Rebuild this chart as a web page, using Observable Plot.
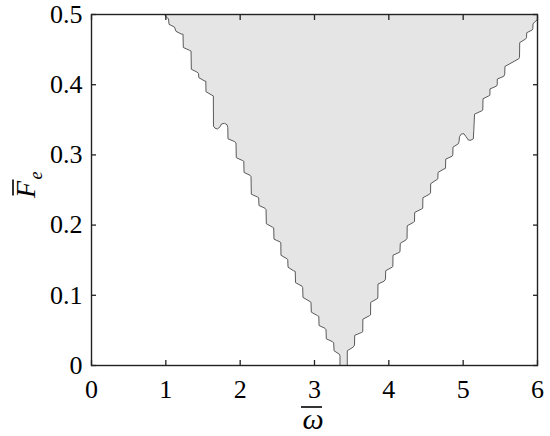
<!DOCTYPE html>
<html>
<head>
<meta charset="utf-8">
<script src="https://cdn.jsdelivr.net/npm/d3@7"></script>
<script src="https://cdn.jsdelivr.net/npm/@observablehq/plot@0.6"></script>
<style>
  html, body { margin: 0; padding: 0; background: #fff; }
  svg text { font-family: "Liberation Serif", "Times New Roman", "DejaVu Serif", serif; }
</style>
</head>
<body>
<div id="chart"></div>
<script>
// Left boundary of the shaded region (omega, Fe), top to bottom
const leftOmega = [0.982,1.009,1.036,1.043,1.117,1.137,1.211,1.231,1.235,1.318,1.339,1.343,1.419,1.440,1.444,1.527,1.538,1.540,1.621,1.639,1.641,1.662,1.695,1.729,1.749,1.789,1.823,1.834,1.836,1.924,1.944,1.948,2.031,2.049,2.052,2.132,2.146,2.150,2.233,2.249,2.253,2.334,2.348,2.352,2.435,2.451,2.455,2.536,2.547,2.549,2.630,2.640,2.644,2.718,2.741,2.745,2.832,2.841,2.845,2.940,2.953,2.957,3.040,3.058,3.061,3.141,3.155,3.159,3.242,3.258,3.263,3.336,3.343,3.343];
const leftFe = [0.500,0.496,0.494,0.486,0.482,0.476,0.472,0.472,0.453,0.449,0.448,0.422,0.418,0.416,0.410,0.405,0.405,0.390,0.385,0.384,0.341,0.338,0.337,0.340,0.344,0.345,0.343,0.339,0.323,0.319,0.317,0.296,0.292,0.291,0.275,0.271,0.269,0.244,0.240,0.239,0.228,0.224,0.222,0.202,0.197,0.196,0.180,0.176,0.175,0.157,0.152,0.151,0.140,0.135,0.134,0.118,0.113,0.111,0.097,0.091,0.090,0.076,0.071,0.070,0.057,0.053,0.051,0.038,0.034,0.032,0.021,0.016,0.013,0.000];
// Right boundary of the shaded region (omega, Fe), bottom to top
const rightOmega = [3.441,3.441,3.518,3.538,3.541,3.632,3.649,3.651,3.740,3.754,3.756,3.841,3.852,3.854,3.935,3.955,3.958,4.043,4.054,4.056,4.137,4.150,4.154,4.231,4.245,4.247,4.332,4.345,4.348,4.440,4.456,4.458,4.547,4.561,4.563,4.648,4.659,4.662,4.742,4.763,4.765,4.850,4.861,4.863,4.937,4.944,4.951,4.978,5.011,5.038,5.072,5.106,5.137,5.143,5.153,5.254,5.264,5.267,5.345,5.359,5.361,5.449,5.458,5.459,5.547,5.559,5.562,5.749,5.758,5.761,5.839,5.852,5.855,5.929,5.937,5.940,5.980,6.000,6.000];
const rightFe = [0.000,0.021,0.026,0.029,0.043,0.047,0.048,0.066,0.071,0.072,0.090,0.095,0.096,0.116,0.120,0.123,0.135,0.140,0.141,0.157,0.161,0.162,0.174,0.179,0.181,0.199,0.204,0.205,0.218,0.223,0.224,0.239,0.244,0.246,0.259,0.265,0.266,0.275,0.280,0.281,0.294,0.298,0.300,0.311,0.316,0.319,0.326,0.330,0.330,0.326,0.321,0.321,0.323,0.335,0.358,0.363,0.364,0.380,0.384,0.385,0.394,0.398,0.400,0.408,0.412,0.415,0.426,0.437,0.439,0.460,0.465,0.467,0.474,0.478,0.480,0.487,0.491,0.493,0.500];
const xTicks = [0,1,2,3,4,5,6];
const yTicks = [0,0.1,0.2,0.3,0.4,0.5];
const yTickLabels = ["0","0.1","0.2","0.3","0.4","0.5"];
const xLabel = "ω";
const yLabel = "F";
const yLabelSub = "e";

const left = leftOmega.map((w, i) => ({omega: w, Fe: leftFe[i]}));
const right = rightOmega.map((w, i) => ({omega: w, Fe: rightFe[i]}));
const region = left.concat(right);
const blank = () => "";
const serif = "'Liberation Serif', 'Times New Roman', 'DejaVu Serif', serif";

const chart = Plot.plot({
  width: 550,
  height: 436,
  marginLeft: 91,
  marginRight: 13,
  marginTop: 14,
  marginBottom: 71,
  style: {fontFamily: serif, fontSize: "26px", color: "#000", background: "#fff"},
  x: {type: "linear", domain: [0, 6]},
  y: {type: "linear", domain: [0, 0.5]},
  marks: [
    Plot.line(region, {x: "omega", y: "Fe", fill: "#e5e5e5", stroke: null}),
    Plot.line(left, {x: "omega", y: "Fe", stroke: "#5a5a5a", strokeWidth: 1}),
    Plot.line(right, {x: "omega", y: "Fe", stroke: "#5a5a5a", strokeWidth: 1}),
    Plot.axisX(xTicks, {anchor: "bottom", tickSize: 0, tickPadding: 14, label: null}),
    Plot.axisY(yTicks, {anchor: "left", tickSize: 0, tickPadding: 9, label: null, tickFormat: (d, i) => yTickLabels[i]}),
    Plot.axisX(xTicks, {anchor: "bottom", tickSize: -5, tickFormat: blank, label: null, stroke: "#222", strokeWidth: 1.3}),
    Plot.axisX(xTicks, {anchor: "top", tickSize: -5, tickFormat: blank, label: null, stroke: "#222", strokeWidth: 1.3}),
    Plot.axisY(yTicks, {anchor: "left", tickSize: -5, tickFormat: blank, label: null, stroke: "#222", strokeWidth: 1.3}),
    Plot.axisY(yTicks, {anchor: "right", tickSize: -5, tickFormat: blank, label: null, stroke: "#222", strokeWidth: 1.3}),
    Plot.frame({stroke: "#222", strokeWidth: 1.4})
  ]
});

const sx = chart.scale("x"), sy = chart.scale("y");
const cx = (sx.apply(0) + sx.apply(6)) / 2;
const cy = (sy.apply(0) + sy.apply(0.5)) / 2;
const svg = d3.select(chart);
const ns = svg.append("g").attr("font-family", serif).attr("fill", "#000");
// x-axis label: omega with bar
ns.append("text")
  .attr("x", cx - 1).attr("y", 429)
  .attr("text-anchor", "middle").attr("font-style", "italic").attr("font-size", 30)
  .text(xLabel);
ns.append("line")
  .attr("x1", cx - 13).attr("x2", cx + 8).attr("y1", 407).attr("y2", 407)
  .attr("stroke", "#000").attr("stroke-width", 1.6);
// y-axis label: F bar subscript e (rotated)
const gy = ns.append("g").attr("transform", `translate(35,${cy}) rotate(-90)`);
gy.append("text")
  .attr("x", 0).attr("y", 0)
  .attr("text-anchor", "middle").attr("font-style", "italic").attr("font-size", 28)
  .text(yLabel);
gy.append("text")
  .attr("x", 14).attr("y", 7)
  .attr("text-anchor", "middle").attr("font-style", "italic").attr("font-size", 18)
  .text(yLabelSub);
gy.append("line")
  .attr("x1", -6).attr("x2", 10).attr("y1", -22).attr("y2", -22)
  .attr("stroke", "#000").attr("stroke-width", 1.6);

document.getElementById("chart").appendChild(chart);
</script>
</body>
</html>
